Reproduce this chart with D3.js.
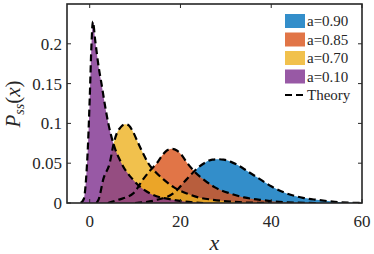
<!DOCTYPE html>
<html>
<head>
<meta charset="utf-8">
<script src="https://cdn.jsdelivr.net/npm/d3@7"></script>
<style>
  body { margin: 0; background: #fff; }
  svg { display: block; }
  text { font-family: "Liberation Serif", "DejaVu Serif", serif; fill: #262626; }
</style>
</head>
<body>
<div id="chart"></div>
<script>
let w = 374;
let h = 254;
let margin = {top: 4, right: 12, bottom: 51, left: 67};

// values
const labels = ["a=0.90", "a=0.85", "a=0.70", "a=0.10"];
const colors = ["#0072bd", "#d95319", "#edb120", "#7e2f8e"];

const x90 = [10, 14.8, 18.4, 21.4, 24, 25.5, 27, 28.2, 29.5, 31, 32.5, 35, 37.5, 40, 43.4, 47, 50, 54, 57, 60];
const y90 = [0, 0.004, 0.012, 0.03, 0.045, 0.051, 0.0545, 0.055, 0.0545, 0.052, 0.048, 0.039, 0.03, 0.021, 0.012, 0.0065, 0.004, 0.0015, 0.0005, 0];

const x85 = [4, 6.3, 9.6, 11.8, 13.5, 14.8, 16, 17, 18.1, 19.2, 20.3, 21.4, 23, 25, 27.5, 30.9, 34, 37.5, 42.6, 50];
const y85 = [0, 0.004, 0.012, 0.03, 0.042, 0.05, 0.06, 0.066, 0.068, 0.066, 0.06, 0.051, 0.04, 0.03, 0.02, 0.012, 0.007, 0.004, 0.001, 0];

const x70 = [1.5, 2, 3, 4.4, 5.3, 6, 6.8, 7.5, 8, 8.7, 9.5, 10.7, 11.8, 12.9, 14.5, 16.2, 18.5, 21.4, 24, 27.2, 33, 40];
const y70 = [0, 0.005, 0.03, 0.05, 0.075, 0.088, 0.095, 0.0985, 0.099, 0.097, 0.09, 0.075, 0.062, 0.05, 0.039, 0.03, 0.02, 0.012, 0.007, 0.004, 0.001, 0];

const x10 = [-2, -1.3, -0.8, -0.4, 0, 0.4, 0.7, 1.2, 2, 2.6, 3.3, 4.1, 5.2, 7, 9.6, 13.3, 18.4, 25];
const y10 = [0, 0.005, 0.03, 0.07, 0.13, 0.2, 0.228, 0.205, 0.17, 0.15, 0.125, 0.1, 0.075, 0.05, 0.029, 0.012, 0.004, 0];

const xTicks = [0, 20, 40, 60];
const yTicks = [0, 0.05, 0.1, 0.15, 0.2];

const series = [
  {label: labels[0], color: colors[0], xs: x90, ys: y90},
  {label: labels[1], color: colors[1], xs: x85, ys: y85},
  {label: labels[2], color: colors[2], xs: x70, ys: y70},
  {label: labels[3], color: colors[3], xs: x10, ys: y10}
];

const x = d3.scaleLinear().domain([-5, 60]).range([margin.left, w - margin.right]);
const y = d3.scaleLinear().domain([0, 0.25]).range([h - margin.bottom, margin.top]);

let svg = d3.select("#chart").append("svg")
  .attr("width", w)
  .attr("height", h);

svg.append("clipPath").attr("id", "clip")
  .append("rect")
    .attr("x", margin.left).attr("y", margin.top)
    .attr("width", w - margin.left - margin.right)
    .attr("height", h - margin.top - margin.bottom);

let plot = svg.append("g").attr("clip-path", "url(#clip)");

const area = d3.area()
  .x(d => x(d[0]))
  .y0(y(0))
  .y1(d => y(d[1]))
  .curve(d3.curveMonotoneX);

const line = d3.line()
  .x(d => x(d[0]))
  .y(d => y(d[1]))
  .curve(d3.curveMonotoneX);

series.forEach(s => {
  let pts = s.xs.map((v, i) => [v, s.ys[i]]);
  plot.append("path")
    .attr("d", area(pts))
    .attr("fill", s.color)
    .attr("fill-opacity", 0.8);
});

series.forEach(s => {
  let pts = s.xs.map((v, i) => [v, s.ys[i]]);
  plot.append("path")
    .attr("d", line(pts))
    .attr("fill", "none")
    .attr("stroke", "#000")
    .attr("stroke-width", 2.2)
    .attr("stroke-dasharray", "7,4");
});

// axes, ticks inside on all four sides
let ax = svg.append("g").attr("stroke", "#262626").attr("stroke-width", 1);
const tl = 4;
xTicks.forEach(t => {
  ax.append("line").attr("x1", x(t)).attr("x2", x(t)).attr("y1", y.range()[0]).attr("y2", y.range()[0] - tl);
  ax.append("line").attr("x1", x(t)).attr("x2", x(t)).attr("y1", y.range()[1]).attr("y2", y.range()[1] + tl);
});
yTicks.forEach(t => {
  ax.append("line").attr("x1", x.range()[0]).attr("x2", x.range()[0] + tl).attr("y1", y(t)).attr("y2", y(t));
  ax.append("line").attr("x1", x.range()[1]).attr("x2", x.range()[1] - tl).attr("y1", y(t)).attr("y2", y(t));
});

svg.append("rect")
  .attr("x", x.range()[0]).attr("y", y.range()[1])
  .attr("width", x.range()[1] - x.range()[0])
  .attr("height", y.range()[0] - y.range()[1])
  .attr("fill", "none")
  .attr("stroke", "#262626")
  .attr("stroke-width", 1.6);

svg.selectAll(".xt").data(xTicks).join("text")
  .attr("x", d => x(d))
  .attr("y", y(0) + 24)
  .attr("text-anchor", "middle")
  .attr("font-size", 17)
  .text(d => d);

svg.selectAll(".yt").data(yTicks).join("text")
  .attr("x", x.range()[0] - 5)
  .attr("y", d => y(d))
  .attr("dy", "0.35em")
  .attr("text-anchor", "end")
  .attr("font-size", 17)
  .text(d => d);

// axis labels
svg.append("text")
  .attr("x", (x.range()[0] + x.range()[1]) / 2)
  .attr("y", 250)
  .attr("text-anchor", "middle")
  .attr("font-size", 22)
  .attr("font-style", "italic")
  .text("x");

let yl = svg.append("text")
  .attr("transform", "translate(20," + 104 + ") rotate(-90)")
  .attr("text-anchor", "middle")
  .attr("font-size", 21);
yl.append("tspan").attr("font-style", "italic").text("P");
yl.append("tspan").attr("font-size", 14).attr("font-style", "italic").attr("dy", 4).text("ss");
yl.append("tspan").attr("dy", -4).text("(");
yl.append("tspan").attr("font-style", "italic").text("x");
yl.append("tspan").text(")");

// legend
let lg = svg.append("g");
series.forEach((s, i) => {
  let cy = 21 + i * 18.5;
  lg.append("rect")
    .attr("x", 285).attr("y", cy - 7)
    .attr("width", 20).attr("height", 14)
    .attr("fill", s.color).attr("fill-opacity", 0.8);
  lg.append("text")
    .attr("x", 307).attr("y", cy)
    .attr("dy", "0.35em")
    .attr("font-size", 15)
    .text(s.label);
});
let ty = 21 + 4 * 18.5;
lg.append("line")
  .attr("x1", 285).attr("x2", 305)
  .attr("y1", ty).attr("y2", ty)
  .attr("stroke", "#000").attr("stroke-width", 2.2)
  .attr("stroke-dasharray", "7,4");
lg.append("text")
  .attr("x", 307).attr("y", ty)
  .attr("dy", "0.35em")
  .attr("font-size", 15)
  .text("Theory");
</script>
</body>
</html>
